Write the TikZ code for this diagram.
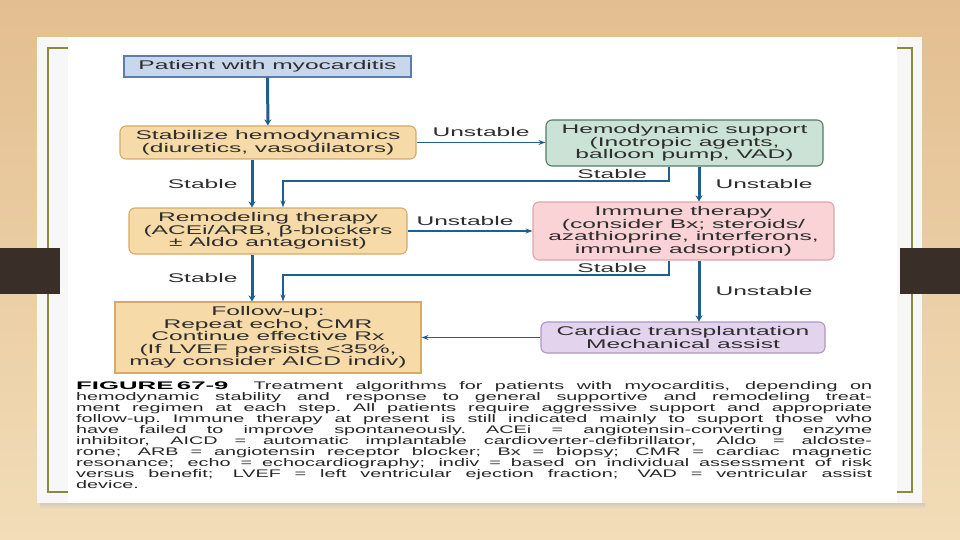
\documentclass[tikz,border=0pt]{standalone}
\usepackage{fontspec}
\setmainfont{Liberation Sans}
\newfontfamily\chartfont[FakeStretch=1.95]{Liberation Sans}
\newfontfamily\capfont[FakeStretch=1.8]{Liberation Sans}
\usepackage{xcolor}
\usetikzlibrary{arrows.meta,calc}
\definecolor{bgtop}{HTML}{E3BE90}
\definecolor{bgbot}{HTML}{F2DDB8}
\definecolor{frameolive}{HTML}{8A8A3E}
\definecolor{darkbrown}{HTML}{3A2E28}
\definecolor{flowblue}{HTML}{1F5F8E}
\definecolor{inktext}{HTML}{2E2E2E}
\definecolor{patfill}{HTML}{C9D7EC}
\definecolor{patline}{HTML}{5B7DAE}
\definecolor{tanfill}{HTML}{F6DBA9}
\definecolor{tanline}{HTML}{D6AA68}
\definecolor{greenfill}{HTML}{CBE3D6}
\definecolor{greenline}{HTML}{4F7D66}
\definecolor{pinkfill}{HTML}{F9D3D6}
\definecolor{pinkline}{HTML}{E3A3AB}
\definecolor{lilacfill}{HTML}{E3D3EC}
\definecolor{lilacline}{HTML}{AE96C6}
\newcommand{\capline}[1]{\makebox[796pt][s]{\spaceskip=0.25em plus 3em\relax\xspaceskip=0.25em plus 3em\relax #1}\\}
\newcommand{\capbold}[1]{\scalebox{1.3}[1]{\color{black}\bfseries #1}}

\begin{document}
\begin{tikzpicture}[x=1pt,y=-1pt,
    chart/.style={font=\chartfont\fontsize{12.6}{12.5}\selectfont,text=inktext,align=center,inner sep=0pt,line width=1.1pt},
    roundbox/.style={chart,rounded corners=6pt},
    tag/.style={font=\chartfont\fontsize{12.6}{13}\selectfont,text=inktext,inner sep=0pt},
    flow/.style={draw=flowblue,line width=3pt,-{Stealth[length=6pt,width=7pt]}},
    thinflow/.style={draw=flowblue,line width=1.8pt,-{Stealth[length=7pt,width=5pt]}}]
    \useasboundingbox (0,0) rectangle (960,540);
    % ===== SLIDE BACKGROUND =====
    \shade[top color=bgtop,bottom color=bgbot] (0,0) rectangle (960,540);
    \shade[top color=black!25,bottom color=bgbot,opacity=0.6] (40,503) rectangle (925,509);
    \fill[black!3] (37,37) rectangle (922,503);
    \fill[white] (68,37) rectangle (897,503);
    \draw[frameolive,line width=2pt] (68,48) -- (48,48) -- (48,492) -- (68,492);
    \draw[frameolive,line width=2pt] (897,48) -- (912,48) -- (912,492) -- (897,492);
    \fill[darkbrown] (0,248) rectangle (60,294);
    \fill[darkbrown] (900,248) rectangle (960,294);
    % ===== BOXES =====
    \node[chart,draw=patline,fill=patfill,minimum width=287pt,minimum height=21pt] (patient) at (267.5,66.5) {Patient with myocarditis};
    \node[roundbox,draw=tanline,fill=tanfill,minimum width=296pt,minimum height=33pt] (stabilize) at (268,142.5) {Stabilize hemodynamics\\(diuretics, vasodilators)};
    \node[roundbox,draw=greenline,fill=greenfill,minimum width=277pt,minimum height=46pt] (support) at (684.5,143) {Hemodynamic support\\(Inotropic agents,\\balloon pump, VAD)};
    \node[roundbox,draw=tanline,fill=tanfill,minimum width=278pt,minimum height=46pt] (remodel) at (268,231) {Remodeling therapy\\(ACEi/ARB, β-blockers\\± Aldo antagonist)};
    \node[roundbox,draw=pinkline,fill=pinkfill,minimum width=301pt,minimum height=58pt] (immune) at (683.5,231) {Immune therapy\\(consider Bx; steroids/\\azathioprine, interferons,\\immune adsorption)};
    \node[chart,draw=tanline,fill=tanfill,minimum width=306pt,minimum height=71pt] (followup) at (268,337.5) {Follow-up:\\Repeat echo, CMR\\Continue effective Rx\\(If LVEF persists <35\%,\\may consider AICD indiv)};
    \node[roundbox,draw=lilacline,fill=lilacfill,minimum width=284pt,minimum height=31pt] (transplant) at (683,337.5) {Cardiac transplantation\\Mechanical assist};
    % ===== CONNECTORS =====
    \coordinate (leftcol) at (252,0);
    \coordinate (midcol) at (283,0);
    \coordinate (backcol) at (669,0);
    \coordinate (rightcol) at (699,0);
    \coordinate (back1) at (283,181);
    \coordinate (back2) at (283,275);
    \draw[flow] (patient) -- (stabilize);
    \draw[flow] (stabilize.south -| leftcol) -- (remodel.north -| leftcol) node[tag,midway,left=13pt] {Stable};
    \draw[thinflow] (stabilize) -- (stabilize -| support.west) node[tag,midway,above=5pt] {Unstable};
    \draw[thinflow] (support.south -| backcol) |- (back1) node[tag,pos=0.5,anchor=south east,xshift=-21pt,yshift=1pt] {Stable} -- (remodel.north -| midcol);
    \draw[flow] (support.south -| rightcol) -- (immune.north -| rightcol) node[tag,midway,right=15pt] {Unstable};
    \draw[thinflow] (remodel) -- (remodel -| immune.west) node[tag,midway,above=4pt,xshift=-5pt] {Unstable};
    \draw[flow] (remodel.south -| leftcol) -- (followup.north -| leftcol) node[tag,midway,left=13pt] {Stable};
    \draw[thinflow] (immune.south -| backcol) |- (back2) node[tag,pos=0.5,anchor=south east,xshift=-21pt,yshift=1pt] {Stable} -- (followup.north -| midcol);
    \draw[flow] (immune.south -| rightcol) -- (transplant.north -| rightcol) node[tag,midway,right=15pt] {Unstable};
    \draw[thinflow] (transplant) -- (transplant -| followup.east);
    % ===== CAPTION =====
    \node[font=\capfont\fontsize{11}{11}\selectfont,text=black!85,text width=796pt,align=left,inner sep=0pt,anchor=north west] (caption) at (76,381) {%
      \capline{\capbold{FIGURE 67-9}\ \ Treatment algorithms for patients with myocarditis, depending on}
      \capline{hemodynamic stability and response to general supportive and remodeling treat-}
      \capline{ment regimen at each step. All patients require aggressive support and appropriate}
      \capline{follow-up. Immune therapy at present is still indicated mainly to support those who}
      \capline{have failed to improve spontaneously. ACEi = angiotensin-converting enzyme}
      \capline{inhibitor, AICD = automatic implantable cardioverter-defibrillator, Aldo = aldoste-}
      \capline{rone; ARB = angiotensin receptor blocker; Bx = biopsy; CMR = cardiac magnetic}
      \capline{resonance; echo = echocardiography; indiv = based on individual assessment of risk}
      \capline{versus benefit; LVEF = left ventricular ejection fraction; VAD = ventricular assist}
      \makebox[796pt][l]{device.}};
\end{tikzpicture}
\end{document}
